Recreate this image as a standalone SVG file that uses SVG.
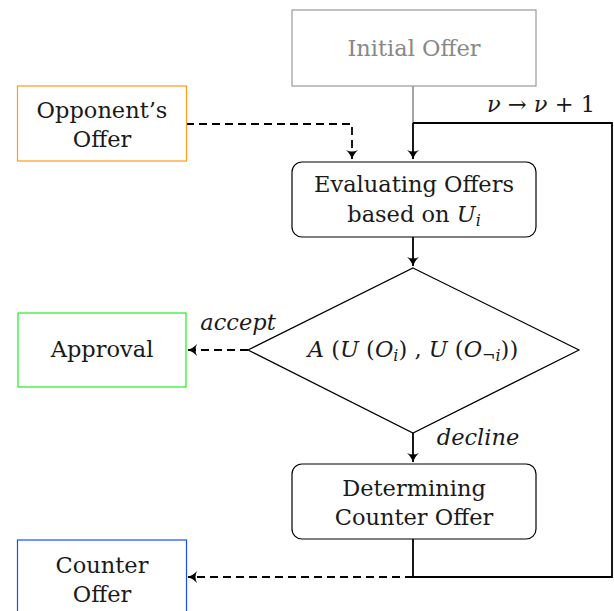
<svg xmlns="http://www.w3.org/2000/svg" width="614" height="611" viewBox="0 0 614 611">
<style>
text{font-family:"DejaVu Serif","Liberation Serif",serif;font-size:22.5px;fill:#1a1a1a;text-anchor:middle}
.it{font-style:italic}
.sub{font-size:16px;font-style:italic}
.box{fill:#fff;stroke-width:1.2}
.ln{fill:none;stroke:#000;stroke-width:1.8}
.ds{fill:none;stroke:#000;stroke-width:1.8;stroke-dasharray:8,5}
</style>
<defs>
<marker id="ah" viewBox="-12 -7 14 14" refX="0" refY="0" markerWidth="14" markerHeight="14" markerUnits="userSpaceOnUse" orient="auto">
<path d="M0.5,0 Q-5,-1.5 -9,-6 Q-6,0 -9,6 Q-5,1.5 0.5,0 Z" fill="#000"/>
</marker>
</defs>
<g id="connectors">
<line x1="413" y1="86" x2="413" y2="123" stroke="#999" stroke-width="1.8"/>
<line class="ln" x1="413" y1="123" x2="413" y2="159" marker-end="url(#ah)"/>
<polyline class="ln" points="413,539 413,577 612,577 612,123 413,123"/>
<polyline class="ds" points="186,124 352,124 352,159" marker-end="url(#ah)"/>
<line class="ln" x1="413" y1="237" x2="413" y2="266" marker-end="url(#ah)"/>
<line class="ds" x1="248" y1="350" x2="188" y2="350" marker-end="url(#ah)"/>
<line class="ln" x1="413" y1="433" x2="413" y2="462" marker-end="url(#ah)"/>
<line class="ds" x1="413" y1="577" x2="188" y2="577" marker-end="url(#ah)"/>
<text x="541" y="112"><tspan class="it">ν</tspan> → <tspan class="it">ν</tspan> + 1</text>
<text class="it" x="238" y="330">accept</text>
<text class="it" x="478" y="445">decline</text>
</g>
<g id="initial">
<rect class="box" x="292" y="10" width="244" height="76" stroke="#999"/>
<text x="414" y="56" style="fill:#888">Initial Offer</text>
</g>
<g id="opponent">
<rect class="box" x="17.5" y="86" width="169" height="75" stroke="#ff9a1a"/>
<text x="102" y="118">Opponent’s</text>
<text x="102" y="147">Offer</text>
</g>
<g id="evaluating">
<rect class="box" x="292" y="162" width="244" height="75" rx="10" stroke="#000"/>
<text x="414" y="192">Evaluating Offers</text>
<text x="414" y="222">based on <tspan class="it">U</tspan><tspan class="sub" dy="4">i</tspan></text>
</g>
<g id="decision">
<polygon class="box" points="413,268 579,350 413,433 248,350" stroke="#000"/>
<text x="413" y="357"><tspan class="it">A</tspan> (<tspan class="it">U</tspan> (<tspan class="it">O</tspan><tspan class="sub" dy="4">i</tspan><tspan dy="-4">) , </tspan><tspan class="it">U</tspan> (<tspan class="it">O</tspan><tspan font-size="16" dy="4">¬</tspan><tspan class="sub">i</tspan><tspan dy="-4">))</tspan></text>
</g>
<g id="approval">
<rect class="box" x="18" y="313" width="168" height="74" stroke="#22ee22"/>
<text x="102" y="357">Approval</text>
</g>
<g id="determining">
<rect class="box" x="292" y="464" width="244" height="75" rx="10" stroke="#000"/>
<text x="414" y="496">Determining</text>
<text x="414" y="525">Counter Offer</text>
</g>
<g id="counter">
<rect class="box" x="17.5" y="540" width="169" height="80" stroke="#1a4dff"/>
<text x="102" y="573">Counter</text>
<text x="102" y="602">Offer</text>
</g>
</svg>
